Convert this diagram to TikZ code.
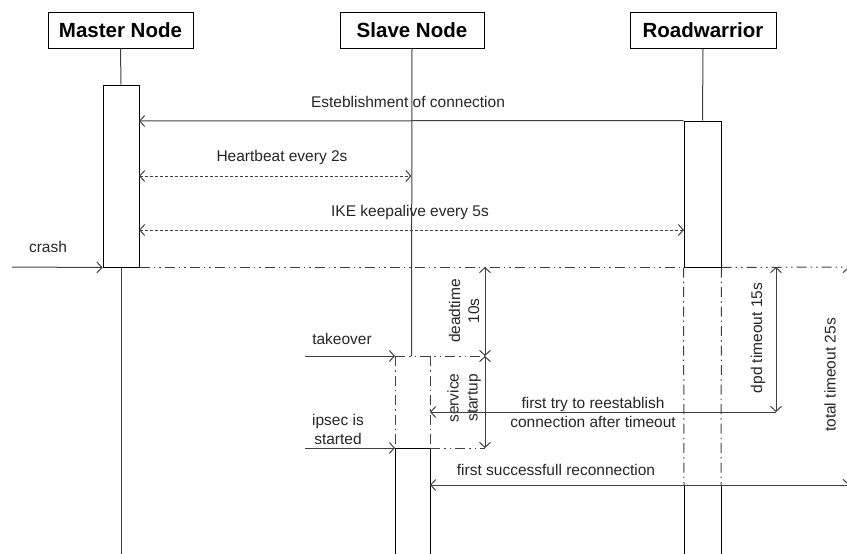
\documentclass[tikz,border=0pt]{standalone}
\usepackage{fontspec}
\setmainfont{Liberation Sans}
\usetikzlibrary{arrows.meta}
\begin{document}
\begin{tikzpicture}[x=1pt,y=-1pt,
  lbl/.style={font=\fontsize{15.5}{19}\selectfont, text=black!85, inner sep=0pt, align=center},
  actor/.style={draw=black, line width=1pt, minimum height=36pt, font=\fontsize{20.5}{23}\selectfont\bfseries, inner sep=0pt},
  life/.style={draw=black!75, line width=1pt},
  barb/.tip={Straight Barb[length=5pt,width=11pt]},
  msg/.style={draw=black!75, line width=1pt, -barb},
  dmsg/.style={draw=black!75, line width=1pt, barb-barb, dash pattern=on 3pt off 2pt},
  ddot/.style={draw=black!75, line width=1pt, dash pattern=on 10pt off 4pt on 1.5pt off 4pt on 1.5pt off 4pt},
  vdot/.style={draw=black!75, line width=1pt, dash pattern=on 10pt off 4pt on 1.5pt off 4pt},
  act/.style={draw=black, line width=1pt, inner sep=0pt},
  dimarrow/.style={draw=black!75, line width=1pt, barb-barb}
]
\useasboundingbox (0,0) rectangle (847,554);

% actors
\node[actor, minimum width=145pt] (master) at (120.5,30) {Master Node};
\node[actor, minimum width=144pt] (slave) at (412,30) {Slave Node};
\node[actor, minimum width=146pt] (road) at (703,30) {Roadwarrior};

% activation boxes
\node[act, minimum width=36pt, minimum height=182pt] (mact) at (121,176) {};
\node[act, minimum width=37pt, minimum height=146pt] (ract) at (702.5,194) {};

% coordinates
\coordinate (mend) at (121,554);
\coordinate (send) at (411.5,356);
\coordinate (s1) at (395,356);
\coordinate (s2) at (430,356);
\coordinate (s3) at (395,448);
\coordinate (s4) at (430,448);
\coordinate (s5) at (395,554);
\coordinate (s6) at (430,554);
\coordinate (dA) at (485,267);
\coordinate (dB) at (485,356);
\coordinate (dC) at (485,448);
\coordinate (r3) at (684,485);
\coordinate (r4) at (721,485);
\coordinate (r5) at (684,554);
\coordinate (r6) at (721,554);
\coordinate (pA) at (776,267);
\coordinate (pB) at (776,412);
\coordinate (tA) at (848.5,267);
\coordinate (tB) at (848.5,485);
\coordinate (crashS) at (12,267);
\coordinate (takeS) at (305,356);
\coordinate (ipsecS) at (305,448);
\coordinate (edgeR) at (847,267);
\coordinate (recS) at (847,485);
\coordinate (hbL) at (139,176);
\coordinate (hbR) at (411.5,176);
\coordinate (ikL) at (139,230);
\coordinate (ikR) at (684,230);
\coordinate (esL) at (139,121);
\coordinate (tryE) at (430,412);
\coordinate (recE) at (430,485);

% lifelines
\draw[life] (master.south) -- (mact.north);
\draw[life] (mact.south) -- (mend);
\draw[life] (slave.south) -- (send);
\draw[life] (road.south) -- (ract.north);

% messages
\draw[msg] (ract.north west) -- (esL);
\node[lbl] (esT) at (408,102) {Esteblishment of connection};
\draw[dmsg] (hbL) -- (hbR);
\node[lbl] (hbT) at (282,157) {Heartbeat every 2s};
\draw[dmsg] (ikL) -- (ikR);
\node[lbl] (ikT) at (410,212) {IKE keepalive every 5s};

% crash
\draw[msg] (crashS) -- (mact.south west);
\node[lbl] (crT) at (48,247) {crash};
\draw[ddot] (mact.south east) -- (ract.south west);
\draw[ddot] (ract.south east) -- (edgeR);

% slave takeover
\draw[msg] (takeS) -- (s1);
\node[lbl] (tkT) at (342,339) {takeover};
\draw[ddot] (s1) -- (dB);
\draw[vdot] (s1) -- (s3);
\draw[vdot] (s2) -- (s4);
\draw[msg] (ipsecS) -- (s3);
\node[lbl] (ipT) at (338,429) {ipsec is\\started};
\draw[act] (s5) -- (s3) -- (s4) -- (s6);
\draw[ddot] (s4) -- (dC);
\draw[dimarrow] (dA) -- (dB);
\draw[dimarrow] (dB) -- (dC);
\node[lbl, rotate=90] (deT) at (464,311) {deadtime\\10s};
\node[lbl, rotate=90] (svT) at (464,398) {service\\startup};

% roadwarrior after crash
\draw[vdot] (ract.south west) -- (r3);
\draw[vdot] (ract.south east) -- (r4);
\draw[act] (r3) -- (r5);
\draw[act] (r4) -- (r6);
\draw[dimarrow] (pA) -- (pB);
\node[lbl, rotate=90] (pdT) at (758,338) {dpd timeout 15s};
\draw[dimarrow] (tA) -- (tB);
\node[lbl, rotate=90] (ttT) at (830,375) {total timeout 25s};

\draw[msg] (pB) -- (tryE);
\node[lbl] (tryT) at (593,412) {first try to reestablish\\connection after timeout};
\draw[msg] (recS) -- (recE);
\node[lbl] (recT) at (556,470) {first successfull reconnection};
\end{tikzpicture}
\end{document}
